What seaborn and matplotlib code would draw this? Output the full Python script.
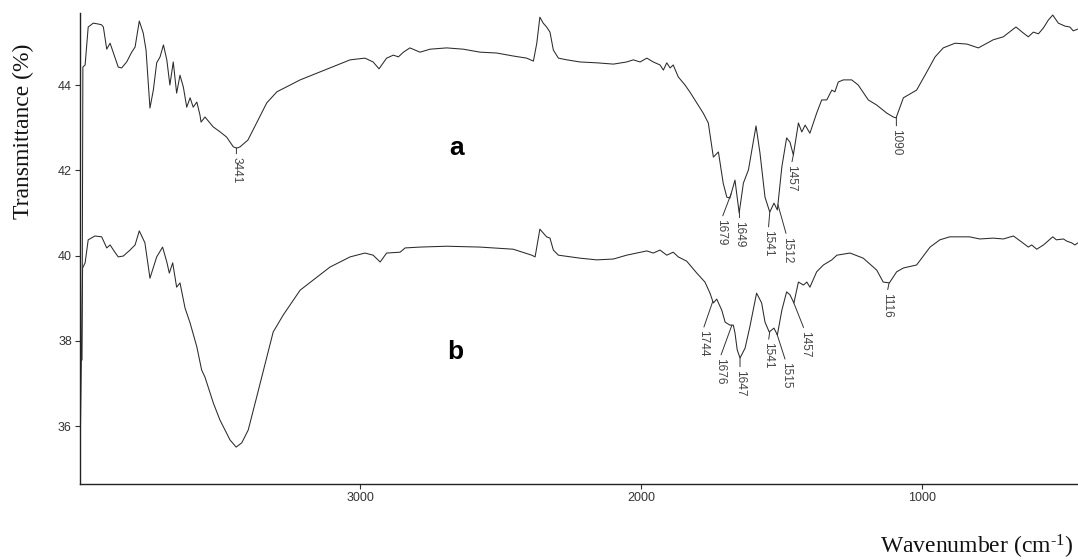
import numpy as np
import pandas as pd
import matplotlib
matplotlib.use("Agg")
import matplotlib.pyplot as plt
import seaborn as sns

# ---- data (wavenumber in cm-1, transmittance in %) ----
wn_a = [3991, 3988, 3980, 3969, 3951, 3933, 3921, 3915, 3903, 3891, 3880, 3862, 3850, 3832,
        3814, 3802, 3787, 3773, 3763, 3749, 3737, 3725, 3713, 3701, 3689, 3678, 3666, 3654,
        3642, 3630, 3618, 3606, 3595, 3582, 3571, 3567, 3553, 3524, 3499, 3476, 3452, 3440,
        3428, 3400, 3369, 3333, 3297, 3250, 3214, 3108, 3036, 2983, 2954, 2933, 2906, 2882,
        2864, 2846, 2823, 2787, 2751, 2692, 2633, 2573, 2514, 2455, 2407, 2383, 2371, 2360,
        2348, 2336, 2324, 2312, 2294, 2264, 2217, 2157, 2098, 2051, 2027, 2003, 1979, 1956,
        1932, 1920, 1908, 1896, 1885, 1867, 1843, 1826, 1801, 1778, 1760, 1742, 1724, 1707,
        1694, 1683, 1665, 1650, 1635, 1617, 1590, 1576, 1558, 1541, 1526, 1514, 1498, 1481,
        1469, 1457, 1439, 1427, 1415, 1398, 1374, 1356, 1338, 1320, 1309, 1297, 1279, 1249,
        1226, 1190, 1160, 1124, 1101, 1091, 1077, 1065, 1018, 988, 952, 923, 881, 839, 798,
        745, 709, 664, 638, 620, 602, 584, 566, 549, 533, 513, 489, 472, 460, 444]
tr_a = [37.55, 44.42, 44.47, 45.36, 45.45, 45.43, 45.41, 45.36, 44.84, 44.98, 44.77, 44.42, 44.40, 44.54,
        44.77, 44.89, 45.50, 45.22, 44.82, 43.46, 43.88, 44.52, 44.66, 44.94, 44.59, 44.00, 44.54, 43.81,
        44.23, 43.95, 43.48, 43.70, 43.48, 43.60, 43.30, 43.13, 43.25, 43.02, 42.90, 42.78, 42.55, 42.52,
        42.55, 42.71, 43.11, 43.58, 43.84, 44.00, 44.12, 44.40, 44.59, 44.63, 44.54, 44.38, 44.63, 44.70,
        44.66, 44.77, 44.87, 44.77, 44.84, 44.87, 44.84, 44.77, 44.75, 44.68, 44.63, 44.56, 44.98, 45.59,
        45.45, 45.36, 45.24, 44.82, 44.63, 44.59, 44.54, 44.52, 44.49, 44.54, 44.59, 44.54, 44.63, 44.54,
        44.47, 44.35, 44.52, 44.40, 44.47, 44.19, 44.00, 43.84, 43.58, 43.34, 43.11, 42.31, 42.43, 41.70,
        41.37, 41.35, 41.77, 41.00, 41.70, 42.01, 43.04, 42.41, 41.37, 41.02, 41.23, 41.07, 42.08, 42.76,
        42.66, 42.36, 43.11, 42.90, 43.06, 42.87, 43.34, 43.65, 43.65, 43.88, 43.84, 44.07, 44.12, 44.12,
        44.00, 43.65, 43.53, 43.34, 43.25, 43.23, 43.48, 43.70, 43.88, 44.23, 44.66, 44.87, 44.98, 44.96, 44.87,
        45.06, 45.13, 45.36, 45.22, 45.13, 45.24, 45.20, 45.34, 45.52, 45.64, 45.45, 45.38, 45.36, 45.27, 45.31]

wn_b = [3997, 3989, 3980, 3969, 3945, 3921, 3903, 3891, 3874, 3862, 3844, 3820, 3802, 3787,
        3767, 3749, 3725, 3704, 3689, 3680, 3668, 3654, 3642, 3624, 3606, 3582, 3565, 3553,
        3523, 3500, 3464, 3442, 3422, 3399, 3369, 3333, 3310, 3274, 3214, 3108, 3036, 2983,
        2954, 2929, 2906, 2858, 2840, 2787, 2692, 2573, 2455, 2389, 2377, 2360, 2348, 2336,
        2324, 2312, 2294, 2217, 2157, 2098, 2051, 1979, 1956, 1932, 1908, 1885, 1867, 1837,
        1801, 1772, 1754, 1742, 1730, 1712, 1700, 1683, 1671, 1665, 1657, 1647, 1629, 1612,
        1588, 1570, 1558, 1543, 1526, 1514, 1498, 1481, 1469, 1455, 1439, 1421, 1409, 1398,
        1374, 1350, 1320, 1302, 1255, 1208, 1160, 1137, 1115, 1089, 1065, 1018, 970, 935,
        900, 864, 829, 793, 745, 709, 673, 644, 620, 608, 590, 566, 533, 520, 495, 483, 466, 454, 443]
tr_b = [35.75, 39.71, 39.83, 40.37, 40.46, 40.44, 40.18, 40.25, 40.08, 39.97, 39.99, 40.13, 40.25, 40.58,
        40.30, 39.47, 39.97, 40.20, 39.85, 39.59, 39.83, 39.26, 39.36, 38.77, 38.42, 37.86, 37.32, 37.15,
        36.54, 36.15, 35.68, 35.51, 35.61, 35.91, 36.68, 37.62, 38.21, 38.61, 39.19, 39.73, 39.97, 40.06,
        40.01, 39.85, 40.06, 40.08, 40.18, 40.20, 40.22, 40.20, 40.15, 40.01, 39.97, 40.62, 40.53, 40.44,
        40.41, 40.13, 40.01, 39.94, 39.90, 39.92, 40.01, 40.11, 40.06, 40.13, 40.01, 40.08, 39.97, 39.87,
        39.59, 39.38, 39.12, 38.89, 38.98, 38.72, 38.44, 38.37, 38.37, 38.19, 37.79, 37.60, 37.83, 38.33,
        39.12, 38.89, 38.44, 38.21, 38.30, 38.14, 38.72, 39.15, 39.08, 38.89, 39.38, 39.31, 39.38, 39.26,
        39.62, 39.78, 39.90, 40.01, 40.06, 39.94, 39.66, 39.38, 39.36, 39.62, 39.71, 39.78, 40.20, 40.37,
        40.44, 40.44, 40.44, 40.39, 40.41, 40.39, 40.46, 40.32, 40.20, 40.25, 40.15, 40.25, 40.44, 40.37,
        40.39, 40.34, 40.30, 40.25, 40.30]

peaks_a = [3441, 1679, 1649, 1541, 1512, 1457, 1090]
peaks_b = [1744, 1676, 1647, 1541, 1515, 1457, 1116]
x_ticks = [3000, 2000, 1000]
y_ticks = [36, 38, 40, 42, 44]

# ---- style ----
sns.set_style("ticks")
plt.rcParams['font.family'] = ['Liberation Sans', 'DejaVu Sans']
plt.rcParams['mathtext.fontset'] = 'custom'
plt.rcParams['mathtext.rm'] = 'Liberation Serif'
plt.rcParams['mathtext.it'] = 'Liberation Serif:italic'

W, H = 1078, 560
fig = plt.figure(figsize=(W / 100, H / 100), dpi=100)
ax = fig.add_axes([79.5 / W, (H - 484) / H, (W - 79.5) / W, (484 - 12.5) / H])

line_col = '#2a2a2a'
df = pd.concat([
    pd.DataFrame({'wn': wn_a, 'T': tr_a, 'sample': 'a'}),
    pd.DataFrame({'wn': wn_b, 'T': tr_b, 'sample': 'b'}),
], ignore_index=True)
sns.lineplot(data=df, x='wn', y='T', hue='sample', palette=[line_col, line_col],
             estimator=None, sort=False, legend=False, linewidth=0.75, ax=ax)

ax.set_xlim(4000, 443)
ax.set_ylim(34.645, 45.70)
ax.set_xticks(x_ticks)
ax.set_xticklabels([str(t) for t in x_ticks])
ax.set_yticks(y_ticks)
ax.set_yticklabels([str(t) for t in y_ticks])
ax.set_xlabel('')
ax.set_ylabel('')
for s in ['top', 'right']:
    ax.spines[s].set_visible(False)
for s in ['left', 'bottom']:
    ax.spines[s].set_color('#222222')
    ax.spines[s].set_linewidth(1.0)
ax.tick_params(direction='out', length=3.5, width=0.8, color='#333333',
               labelcolor='#333333', labelsize=9, pad=2)

# ---- peak annotations ----
off_a = [(0, -9), (-9.5, -25), (0, -10), (-1.5, -18), (9, -32), (-2, -10), (0, -12)]
off_b = [(-10, -29), (-12, -33), (0, -12), (-1.5, -11), (9, -28), (11.5, -29), (-2, -10)]


def annotate_peaks(wn, tr, peaks, offs):
    xs = np.array(wn)[::-1]
    ys = np.array(tr)[::-1]
    for p, (dx, dy) in zip(peaks, offs):
        yv = np.interp(p, xs, ys)
        ax.annotate(str(p), xy=(p, yv), xytext=(dx, dy), textcoords='offset pixels',
                    rotation=270, ha='center', va='top', fontsize=8.5, color='#444444',
                    arrowprops=dict(arrowstyle='-', color='#333333', lw=0.7,
                                    shrinkA=0, shrinkB=0, relpos=(0.5, 1.0)))


annotate_peaks(wn_a, tr_a, peaks_a, off_a)
annotate_peaks(wn_b, tr_b, peaks_b, off_b)

ax.text(0.3778, 0.712, 'a', transform=ax.transAxes, fontsize=19, fontweight='bold',
        ha='center', va='center', color='black')
ax.text(0.3760, 0.280, 'b', transform=ax.transAxes, fontsize=19, fontweight='bold',
        ha='center', va='center', color='black')

fig.text(23 / W, 1 - 131 / H, 'Transmittance (%)', rotation=90, ha='center', va='center',
         fontsize=17, family='Liberation Serif', color='#111111')
fig.text(1073 / W, 1 - 554 / H, r'Wavenumber (cm$^{\text{-}1}$)', ha='right', va='baseline',
         fontsize=17, family='Liberation Serif', color='#111111')

fig.savefig('out.png', dpi=100)
